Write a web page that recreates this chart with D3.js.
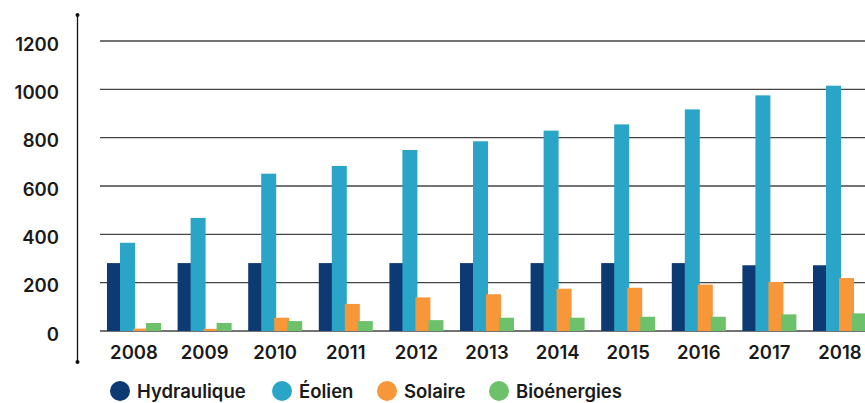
<!doctype html>
<html>
<head>
<meta charset="utf-8">
<script src="https://cdn.jsdelivr.net/npm/d3@7"></script>
<style>
  body { margin: 0; background: #fff; }
  svg { display: block; font-family: Inter, "Open Sans", sans-serif; }
  .tick-label, .year-label { font-size: 18.5px; font-weight: 600; fill: #1a1a1a; }
  .legend-label { font-size: 18.5px; font-weight: 600; fill: #1a1a1a; }
</style>
</head>
<body>
<svg id="chart" width="865" height="403"></svg>
<script>
  // data (MW, approx.)
  var years = ['2008', '2009', '2010', '2011', '2012', '2013', '2014', '2015', '2016', '2017', '2018'];
  var series = ['Hydraulique', 'Éolien', 'Solaire', 'Bioénergies'];
  var colors = ['#0d3a72', '#2aa5c7', '#f8963a', '#6dc16b'];
  var hydraulique = [281, 281, 281, 281, 281, 281, 281, 281, 281, 272, 272];
  var eolien = [365, 468, 651, 683, 749, 785, 829, 855, 917, 975, 1015];
  var solaire = [10, 9, 55, 112, 139, 152, 175, 179, 192, 203, 219];
  var bioenergies = [33, 33, 41, 41, 45, 55, 55, 59, 59, 69, 73];
  var yTicks = [0, 200, 400, 600, 800, 1000, 1200];

  var values = [hydraulique, eolien, solaire, bioenergies];

  var svg = d3.select('#chart');
  var barW = 15;

  var y = d3.scaleLinear().domain([0, 1200]).range([331, 41]);

  var x0 = d3.scaleBand()
    .domain(years)
    .range([98.7, 875.3])
    .paddingInner(0.235)
    .paddingOuter(0.1175);

  var x1 = d3.scalePoint()
    .domain(series)
    .range([0, x0.bandwidth() - barW]);

  // gridlines
  svg.append('g').selectAll('line')
    .data(yTicks)
    .enter().append('line')
    .attr('x1', 100).attr('x2', 865)
    .attr('y1', function (d) { return y(d); })
    .attr('y2', function (d) { return y(d); })
    .attr('stroke', '#444')
    .attr('stroke-width', 1.3);

  // tick labels
  svg.append('g').selectAll('text')
    .data(yTicks)
    .enter().append('text')
    .attr('class', 'tick-label')
    .attr('x', 59)
    .attr('y', function (d) { return y(d); })
    .attr('dy', '0.52em')
    .attr('text-anchor', 'end')
    .text(function (d) { return d; });

  // vertical axis with dot ends
  svg.append('line')
    .attr('x1', 77.5).attr('x2', 77.5)
    .attr('y1', 15).attr('y2', 362)
    .attr('stroke', '#111').attr('stroke-width', 1.3);
  svg.append('g').selectAll('circle')
    .data([15, 362])
    .enter().append('circle')
    .attr('cx', 77.5).attr('cy', function (d) { return d; })
    .attr('r', 2).attr('fill', '#111');

  // bars, drawn series by series so later ones overlap earlier
  var groups = svg.append('g').selectAll('g')
    .data(years)
    .enter().append('g')
    .attr('transform', function (d) { return 'translate(' + x0(d) + ',0)'; });

  groups.selectAll('rect')
    .data(function (d, i) {
      return series.map(function (s, j) { return { s: s, j: j, v: values[j][i] }; });
    })
    .enter().append('rect')
    .attr('x', function (d) { return x1(d.s); })
    .attr('width', barW)
    .attr('y', function (d) { return y(d.v); })
    .attr('height', function (d) { return y(0) - y(d.v); })
    .attr('fill', function (d) { return colors[d.j]; });

  // year labels
  svg.append('g').selectAll('text')
    .data(years)
    .enter().append('text')
    .attr('class', 'year-label')
    .attr('x', function (d) { return x0(d) + x0.bandwidth() / 2; })
    .attr('y', 359)
    .attr('text-anchor', 'middle')
    .text(function (d) { return d; });

  // legend
  var legendX = [120, 282, 387, 499];
  var legend = svg.append('g').selectAll('g')
    .data(series)
    .enter().append('g')
    .attr('transform', function (d, i) { return 'translate(' + legendX[i] + ',391)'; });
  legend.append('circle')
    .attr('r', 10)
    .attr('fill', function (d, i) { return colors[i]; });
  legend.append('text')
    .attr('class', 'legend-label')
    .attr('x', 17)
    .attr('y', 6.5)
    .text(function (d) { return d; });
</script>
</body>
</html>
